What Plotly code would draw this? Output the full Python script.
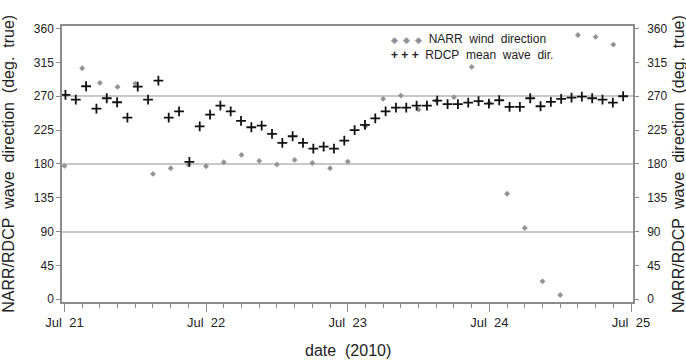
import pandas as pd
import plotly.graph_objects as go

# NARR wind direction, every 3 h from 2010-07-21 00:00
narr_start = "2010-07-21 00:00"
narr_freq = "3h"
narr_dir = [177.4, 307.2, 287.7, 282.4, 286.8, 166.7, 174.3, 179.2, 176.9, 182.2,
            192.0, 184.0, 179.2, 185.3, 181.3, 174.3, 183.1, 230.0, 266.5, 270.9,
            252.3, 264.0, 268.8, 309.0, 261.0, 140.4, 94.8, 23.9, 5.7, 351.5,
            348.9, 338.7]

# RDCP mean wave direction
rdcp_start = "2010-07-21 00:10"
rdcp_freq = "105min"
rdcp_dir = [271.8, 265.6, 283.3, 253.6, 267.3, 262.0, 241.6, 282.9, 265.6, 290.8,
            241.6, 250.0, 182.7, 230.0, 245.6, 257.6, 250.0, 237.2, 228.8, 231.0,
            219.9, 207.9, 216.8, 207.9, 200.4, 203.0, 200.4, 211.0, 225.0, 231.9,
            240.7, 250.0, 254.9, 254.9, 257.6, 257.6, 264.2, 259.4, 259.4, 261.6,
            263.4, 260.2, 264.7, 255.8, 255.8, 267.3, 256.7, 262.5, 266.5, 268.2,
            269.6, 267.3, 265.6, 261.6, 270.0]

x_tick_dates = ["2010-07-21", "2010-07-22", "2010-07-23", "2010-07-24", "2010-07-25"]
x_tick_text = ["Jul\u00a0\u00a021", "Jul\u00a0\u00a022", "Jul\u00a0\u00a023", "Jul\u00a0\u00a024", "Jul\u00a0\u00a025"]
y_ticks = [0, 45, 90, 135, 180, 225, 270, 315, 360]
y_grid = [90, 180, 270]

narr_t = pd.date_range(narr_start, periods=len(narr_dir), freq=narr_freq)
rdcp_t = pd.date_range(rdcp_start, periods=len(rdcp_dir), freq=rdcp_freq)

FONT = "Liberation Sans, Arial, sans-serif"
AX = "#8c8c8c"
GRID = "#c8c8c8"
TXT = "#222222"
yr = [-3.6, 363.4]

fig = go.Figure()
# helper traces that activate the right-hand axis and the grid axis
fig.add_trace(go.Scatter(x=[narr_t[0]], y=[narr_dir[0]], yaxis="y3", mode="markers",
                         marker=dict(opacity=0), hoverinfo="skip"))
fig.add_trace(go.Scatter(x=[narr_t[0]], y=[narr_dir[0]], yaxis="y2", mode="markers",
                         marker=dict(opacity=0), hoverinfo="skip"))
fig.add_trace(go.Scatter(
    x=narr_t, y=narr_dir, mode="markers", name="NARR wind direction",
    marker=dict(symbol="diamond", size=4.5, color="#939393", line=dict(width=0))))
fig.add_trace(go.Scatter(
    x=rdcp_t, y=rdcp_dir, mode="markers", name="RDCP mean wave dir.",
    marker=dict(symbol="cross-thin", size=7, color="#111111",
                line=dict(width=1.8, color="#111111"))))

fig.update_layout(
    width=686, height=362,
    margin=dict(l=62, r=53, t=26, b=60),
    paper_bgcolor="white", plot_bgcolor="white",
    showlegend=False,
    font=dict(family=FONT, color=TXT),
    xaxis=dict(
        type="date",
        range=["2010-07-20 23:35", "2010-07-25 00:20"],
        tickvals=x_tick_dates, ticktext=x_tick_text,
        tickfont=dict(size=13, color=TXT),
        ticks="outside", ticklen=8, tickwidth=1, tickcolor=AX,
        showline=True, linecolor=AX, linewidth=1.5, mirror=True,
        showgrid=False, zeroline=False,
        minor=dict(dtick=3 * 3600 * 1000, ticks="outside", ticklen=4,
                   tickcolor=AX, tickwidth=1, showgrid=False),
    ),
    yaxis=dict(
        range=yr, tickvals=y_ticks,
        tickfont=dict(size=12, color=TXT),
        ticks="outside", ticklen=4, tickcolor=AX,
        showline=True, linecolor=AX, linewidth=1.5,
        showgrid=False, zeroline=False,
    ),
    yaxis2=dict(
        range=yr, tickvals=y_ticks, overlaying="y", side="right",
        tickfont=dict(size=12, color=TXT),
        ticks="outside", ticklen=4, tickcolor=AX, ticklabelstandoff=6,
        showline=True, linecolor=AX, linewidth=1.5,
        showgrid=False, zeroline=False,
    ),
    yaxis3=dict(
        range=yr, tickvals=y_grid, overlaying="y", side="left",
        showticklabels=False, ticks="", showline=False,
        showgrid=True, gridcolor=GRID, gridwidth=1.5, zeroline=False,
    ),
)

fig.add_annotation(text="date\u00a0\u00a0(2010)", xref="paper", yref="paper",
                   x=0.5, y=-0.175, xanchor="center", yanchor="middle",
                   showarrow=False, font=dict(size=16, color=TXT))
ytitle = "NARR/RDCP\u00a0\u00a0wave\u00a0\u00a0direction\u00a0\u00a0(deg.\u00a0\u00a0true)"
fig.add_annotation(text=ytitle, xref="paper", yref="paper",
                   x=-0.095, y=0.5, xanchor="center", yanchor="middle",
                   textangle=-90, showarrow=False, font=dict(size=16, color=TXT))
fig.add_annotation(text=ytitle, xref="paper", yref="paper",
                   x=1.079, y=0.5, xanchor="center", yanchor="middle",
                   textangle=-90, showarrow=False, font=dict(size=16, color=TXT))

sp = "\u00a0\u00a0"
legend_text = (
    "<span style='color:#939393;font-size:9px'>\u25c6\u00a0\u00a0\u25c6\u00a0\u00a0\u25c6</span>"
    + "\u00a0\u00a0NARR" + sp + "wind" + sp + "direction<br>"
    + "<b>+\u00a0+\u00a0+</b>\u00a0\u00a0RDCP" + sp + "mean" + sp + "wave" + sp + "dir."
)
fig.add_annotation(
    text=legend_text, xref="paper", yref="paper", x=0.572, y=0.925,
    xanchor="left", yanchor="middle", align="left",
    showarrow=False, font=dict(size=12, color=TXT))

fig.write_html("out.html")
